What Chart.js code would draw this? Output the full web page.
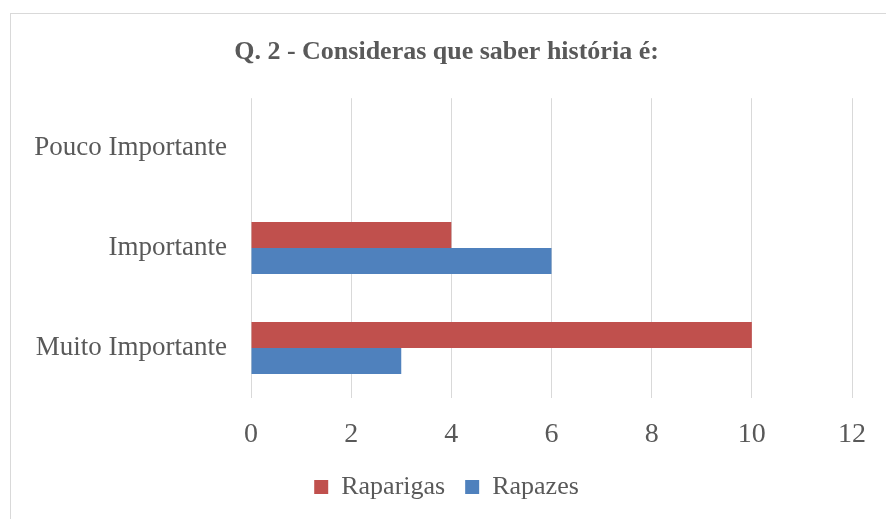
<!DOCTYPE html>
<html>
<head>
<meta charset="utf-8">
<script src="https://cdn.jsdelivr.net/npm/chart.js@4"></script>
<style>
  body { margin: 0; background: #fff; }
  .frame {
    position: absolute;
    left: 10px;
    top: 13px;
    width: 875px;
    height: 505px;
    border-left: 1px solid #d9d9d9;
    border-top: 1px solid #d9d9d9;
  }
</style>
</head>
<body>
<div class="frame"><canvas id="myChart" width="875" height="505"></canvas></div>
<script>
const categories = ["Pouco Importante", "Importante", "Muito Importante"];
const raparigas = [0, 4, 10];
const rapazes = [0, 6, 3];
const tickValues = [0, 2, 4, 6, 8, 10, 12];

const textColor = "#595959";
const serif = "'Liberation Serif', 'Times New Roman', serif";

const data = {
  labels: categories,
  datasets: [
    {
      label: "Raparigas",
      backgroundColor: "#C0504D",
      data: raparigas,
    },
    {
      label: "Rapazes",
      backgroundColor: "#4F81BD",
      data: rapazes,
    },
  ],
};

const config = {
  type: "bar",
  data: data,
  options: {
    indexAxis: "y",
    responsive: false,
    animation: false,
    categoryPercentage: 0.52,
    barPercentage: 1,
    layout: {
      padding: { left: 10, right: 14, top: 0, bottom: 9 },
    },
    scales: {
      x: {
        min: tickValues[0],
        max: tickValues[tickValues.length - 1],
        afterBuildTicks: (scale) => {
          scale.ticks = tickValues.map((v) => ({ value: v }));
        },
        afterFit: (scale) => {
          scale.height = 56;
        },
        grid: {
          color: "#d9d9d9",
          lineWidth: 1,
          drawTicks: false,
        },
        border: { display: false },
        ticks: {
          color: textColor,
          padding: 20,
          font: { family: serif, size: 28 },
        },
      },
      y: {
        afterFit: (scale) => {
          scale.width = 230;
        },
        grid: { display: false, drawTicks: false },
        border: { display: false },
        ticks: {
          color: textColor,
          padding: 24,
          font: { family: serif, size: 27 },
        },
      },
      // empty right-hand spacer so the title sits centred like the original
      spacer: {
        type: "linear",
        position: "right",
        afterFit: (scale) => {
          scale.width = 17;
        },
        grid: { display: false, drawTicks: false },
        border: { display: false },
        ticks: { display: false },
      },
    },
    plugins: {
      title: {
        display: true,
        text: "Q. 2 - Consideras que saber história é:",
        color: textColor,
        font: { family: serif, size: 26, weight: "bold" },
        padding: { top: 23, bottom: 30 },
      },
      legend: {
        position: "bottom",
        labels: {
          color: textColor,
          boxWidth: 14,
          boxHeight: 14,
          padding: 20,
          font: { family: serif, size: 26 },
        },
      },
      tooltip: { enabled: false },
    },
  },
};
const myChart = new Chart(document.getElementById("myChart"), config);
</script>
</body>
</html>
